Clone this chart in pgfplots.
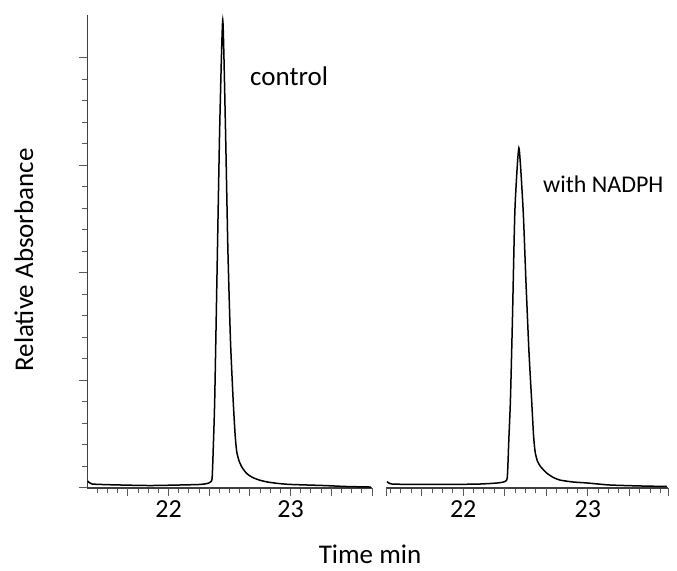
\documentclass[border=0pt]{standalone}
\usepackage{pgfplots}
\pgfplotsset{compat=1.18}
\usepackage{fontspec}
\setmainfont{Carlito}

\begin{document}
\begin{tikzpicture}[x=1pt,y=1pt]
\pgfplotsset{
  panel/.style={
    scale only axis,
    height=473pt,
    ymin=0, ymax=4.4,
    axis x line*=bottom,
    tick align=outside,
    xtick={22,23},
    major tick length=8pt,
    minor tick length=5pt,
    axis line style={draw=black!75, line width=1.3pt},
    every tick/.style={draw=black!65, line width=1pt},
    minor tick style={draw=black!65, line width=1pt},
    /pgf/number format/assume math mode=true,
    xticklabel style={font=\fontsize{26}{30}\selectfont, yshift=-1pt},
    extra x tick labels={},
    extra x tick style={major tick length=8pt},
    clip=false,
  },
  curve/.style={black, line width=1.5pt, no markers, smooth, tension=0.35},
}

% ---------- left panel: control ----------
\begin{axis}[panel,
  at={(87.2pt,82pt)}, anchor=south west,
  width=284.8pt,
  xmin=21.3333, xmax=23.6667,
  axis y line*=left,
  ytick={0,1,2,3,4}, yticklabels={},
  minor y tick num=4,
  minor xtick={21.4166667,21.5,21.5833333,21.75,21.8333333,21.9166667,22.0833333,22.1666667,22.25,22.4166667,22.5,22.5833333,22.75,22.8333333,22.9166667,23.0833333,23.1666667,23.25,23.4166667,23.5,23.5833333},
  extra x ticks={21.6666667,22.3333333,22.6666667,23.3333333,23.6666667},
]
\addplot[curve] coordinates {
(21.340,0.065) (21.373,0.037) (21.603,0.028) (21.850,0.023) (22.096,0.028)
(22.260,0.033) (22.318,0.042) (22.343,0.056) (22.357,0.093) (22.367,0.40)
(22.378,0.819) (22.396,1.935) (22.419,3.358) (22.444,4.353) (22.466,3.358)
(22.486,2.214) (22.507,1.377) (22.529,0.819) (22.545,0.50) (22.558,0.34)
(22.578,0.25) (22.603,0.190) (22.640,0.135) (22.685,0.100) (22.740,0.075)
(22.809,0.056) (22.900,0.042) (23.000,0.033) (23.271,0.023) (23.452,0.014)
(23.657,0.009)
};
\end{axis}

% ---------- right panel: with NADPH ----------
\begin{axis}[panel,
  at={(386pt,82pt)}, anchor=south west,
  width=282pt,
  xmin=21.38, xmax=23.644,
  axis y line=none,
  minor xtick={21.4166667,21.5,21.5833333,21.75,21.8333333,21.9166667,22.0833333,22.1666667,22.25,22.4166667,22.5,22.5833333,22.75,22.8333333,22.9166667,23.0833333,23.1666667,23.25,23.4166667,23.5,23.5833333},
  extra x ticks={21.38,21.6666667,22.3333333,22.6666667,23.3333333,23.644},
]
\addplot[curve] coordinates {
(21.388,0.060) (21.428,0.037) (21.653,0.033) (21.893,0.033) (22.134,0.037)
(22.278,0.047) (22.334,0.060) (22.354,0.102) (22.366,0.447) (22.379,0.819)
(22.395,1.563) (22.415,2.586) (22.447,3.163) (22.481,2.586) (22.503,1.935)
(22.527,1.284) (22.549,0.819) (22.565,0.48) (22.578,0.33) (22.596,0.25)
(22.620,0.200) (22.669,0.140) (22.720,0.100) (22.775,0.074) (22.880,0.056)
(22.992,0.047) (23.176,0.028) (23.417,0.019) (23.634,0.014)
};
\end{axis}

% ---------- texts ----------
\node[anchor=base west, font=\fontsize{27}{32}\selectfont, inner sep=0pt] at (250,484) {control};
\node[anchor=base west, font=\fontsize{24}{28}\selectfont, inner sep=0pt] at (543,377) {with NADPH};
\node[rotate=90, anchor=base, font=\fontsize{27}{32}\selectfont, inner sep=0pt] at (33,310) {Relative Absorbance};
\node[anchor=base, font=\fontsize{27}{32}\selectfont, inner sep=0pt] at (370,6) {Time min};

\pgfresetboundingbox
\path[use as bounding box] (0,0) rectangle (677,570);
\end{tikzpicture}
\end{document}
